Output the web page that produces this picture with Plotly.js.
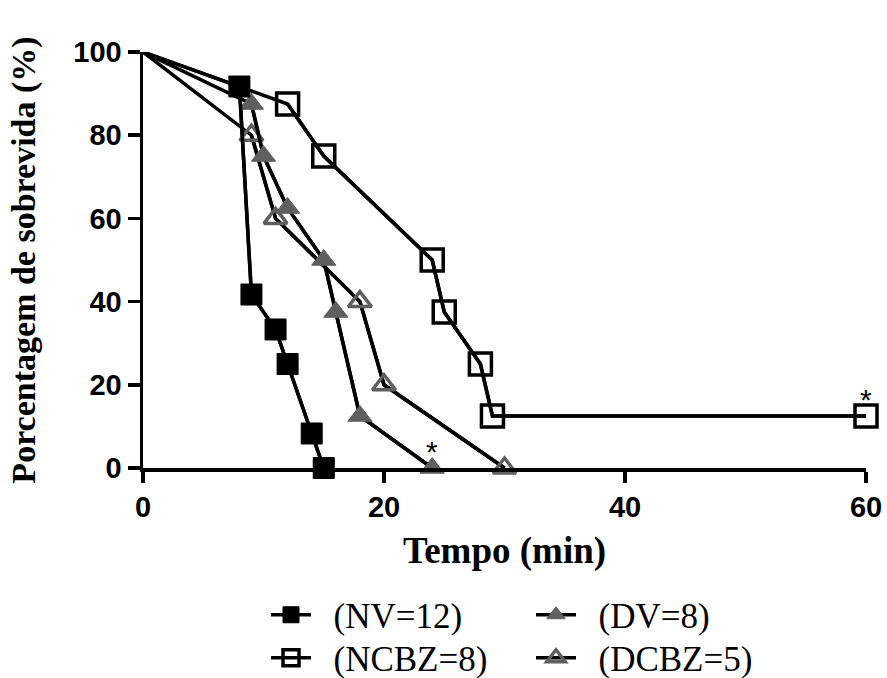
<!DOCTYPE html>
<html>
<head>
<meta charset="utf-8">
<script src="https://cdn.plot.ly/plotly-3.0.1.min.js"></script>
<style>html,body{margin:0;padding:0;background:#fff;}#chart{width:887px;height:678px;}</style>
</head>
<body>
<div id="chart"></div>
<script>
// Data (time in minutes, survival %)
const nvTime   = [0, 8, 9, 11, 12, 14, 15];
const nvSurv   = [100, 91.7, 41.7, 33.3, 25, 8.3, 0];
const dvTime   = [0, 9, 10, 12, 15, 16, 18, 24];
const dvSurv   = [100, 87.5, 75, 62.5, 50, 37.5, 12.5, 0];
const ncbzTime = [0, 12, 15, 24, 25, 28, 29, 60];
const ncbzSurv = [100, 87.5, 75, 50, 37.5, 25, 12.5, 12.5];
const dcbzTime = [0, 9, 11, 18, 20, 30];
const dcbzSurv = [100, 80, 60, 40, 20, 0];
const seriesNames = ['(NV=12)', '(DV=8)', '(NCBZ=8)', '(DCBZ=5)'];
// significance markers
const sigX = [24, 60];
const sigY = [0, 12.5];
const xTicks = [0, 20, 40, 60];
const yTicks = [0, 20, 40, 60, 80, 100];

const gray = '#5f5f5f';
const lineStyle = {color: '#000', width: 3.5};
const pad = '\u00a0\u00a0';

function lineTrace(x, y) {
  return {x: x, y: y, mode: 'lines', line: lineStyle, showlegend: false, hoverinfo: 'skip', cliponaxis: false};
}
function markTrace(x, y, name, marker, legend) {
  return {x: x.slice(1), y: y.slice(1), name: pad + name, mode: 'lines+markers',
          line: lineStyle, marker: marker, legend: legend, cliponaxis: false};
}

const data = [
  lineTrace(ncbzTime, ncbzSurv),
  lineTrace(dcbzTime, dcbzSurv),
  lineTrace(dvTime, dvSurv),
  lineTrace(nvTime, nvSurv),
  markTrace(ncbzTime, ncbzSurv, seriesNames[2], {symbol: 'square-open', size: 22, color: '#000', line: {color: '#000', width: 3.5}}, 'legend3'),
  markTrace(dcbzTime, dcbzSurv, seriesNames[3], {symbol: 'triangle-up-open', size: 20, color: gray, line: {color: gray, width: 3.5}}, 'legend4'),
  markTrace(dvTime, dvSurv, seriesNames[1], {symbol: 'triangle-up', size: 21, color: gray, line: {color: gray, width: 1}}, 'legend2'),
  markTrace(nvTime, nvSurv, seriesNames[0], {symbol: 'square', size: 21, color: '#000', line: {color: '#000', width: 1}}, 'legend')
];

const annotations = sigX.map((x, i) => ({
  x: x, y: sigY[i], xref: 'x', yref: 'y', text: '*', showarrow: false,
  yshift: 17, font: {family: 'Arial, Liberation Sans', size: 30, color: '#000'}
}));

const legendBase = {
  orientation: 'v', xanchor: 'left', yanchor: 'middle', itemwidth: 40,
  font: {family: 'Times New Roman, Liberation Serif, serif', size: 35, color: '#000'},
  bgcolor: 'rgba(0,0,0,0)', borderwidth: 0
};
const col1 = (266 - 143) / 723, col2 = (531 - 143) / 723;
const row1 = (468 - 615) / 416, row2 = (468 - 658) / 416;

const layout = {
  width: 887, height: 678,
  margin: {l: 143, r: 21, t: 52, b: 210, autoexpand: false},
  paper_bgcolor: '#fff', plot_bgcolor: '#fff',
  showlegend: true,
  xaxis: {
    range: [0, 60], tickvals: xTicks, ticktext: xTicks.map(String), automargin: false,
    showgrid: false, zeroline: false, showline: true, linecolor: '#000', linewidth: 3.5,
    ticks: 'outside', ticklen: 11, tickwidth: 3.5, tickcolor: '#000',
    tickfont: {family: 'Arial, Liberation Sans', size: 29, color: '#000', weight: 'bold'},
    title: {text: '<b>Tempo (min)</b>', standoff: 16,
            font: {family: 'Times New Roman, Liberation Serif, serif', size: 37, color: '#000'}}
  },
  yaxis: {
    range: [0, 100], tickvals: yTicks, ticktext: yTicks.map(String), automargin: false,
    showgrid: false, zeroline: false, showline: true, linecolor: '#000', linewidth: 3.5,
    ticks: 'outside', ticklen: 12, tickwidth: 3.5, tickcolor: '#000',
    tickfont: {family: 'Arial, Liberation Sans', size: 29, color: '#000', weight: 'bold'},
    title: {text: '<b>Porcentagem de sobrevida (%)</b>', standoff: 28,
            font: {family: 'Times New Roman, Liberation Serif, serif', size: 34, color: '#000'}}
  },
  legend: Object.assign({}, legendBase, {x: col1, y: row1}),
  legend2: Object.assign({}, legendBase, {x: col2, y: row1}),
  legend3: Object.assign({}, legendBase, {x: col1, y: row2}),
  legend4: Object.assign({}, legendBase, {x: col2, y: row2}),
  annotations: annotations
};

Plotly.newPlot('chart', data, layout, {displayModeBar: false, staticPlot: true});
</script>
</body>
</html>
